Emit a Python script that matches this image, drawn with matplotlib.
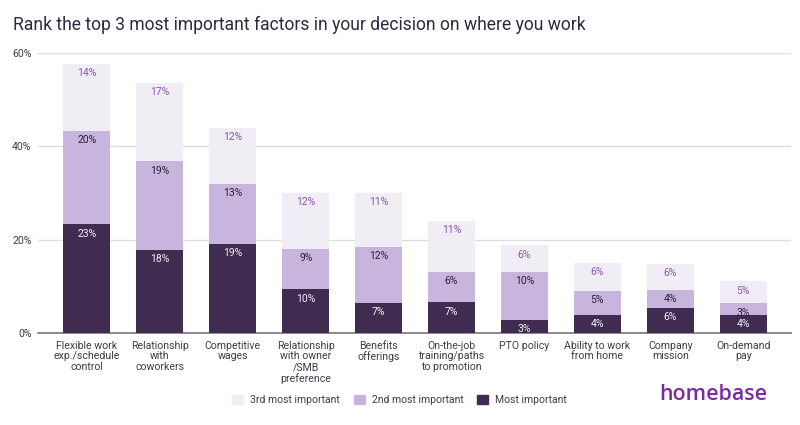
import matplotlib
matplotlib.use("Agg")
import matplotlib.pyplot as plt
from matplotlib.patches import Patch
import numpy as np

plt.rcParams['font.family'] = ['Roboto', 'DejaVu Sans']

categories = ["Flexible work\nexp./schedule\ncontrol", "Relationship\nwith\ncoworkers",
              "Competitive\nwages", "Relationship\nwith owner\n/SMB\npreference",
              "Benefits\nofferings", "On-the-job\ntraining/paths\nto promotion",
              "PTO policy", "Ability to work\nfrom home", "Company\nmission", "On-demand\npay"]
most = [23.3, 17.8, 19.1, 9.4, 6.5, 6.6, 2.9, 3.9, 5.5, 3.9]
second = [20.0, 19.0, 12.8, 8.7, 12.0, 6.5, 10.2, 5.2, 3.8, 2.5]
third = [14.3, 16.8, 12.1, 12.0, 11.5, 11.0, 5.7, 6.0, 5.5, 4.7]
most_labels = ["23%", "18%", "19%", "10%", "7%", "7%", "3%", "4%", "6%", "4%"]
second_labels = ["20%", "19%", "13%", "9%", "12%", "6%", "10%", "5%", "4%", "3%"]
third_labels = ["14%", "17%", "12%", "12%", "11%", "11%", "6%", "6%", "6%", "5%"]
yticks = [0, 20, 40, 60]

DARK, MID, LIGHT = "#3f2c50", "#c8b5de", "#f0edf5"
INK = "#3d3d45"

fig = plt.figure(figsize=(8, 4.25), dpi=100)
ax = fig.add_axes([37.7/800, 1-333.3/425, (790.7-37.7)/800, (333.3-53)/425])
x = np.arange(len(categories))
m, s, t = map(np.array, (most, second, third))
w = 0.645
ax.bar(x, m, w, color=DARK, zorder=3)
ax.bar(x, s, w, bottom=m, color=MID, zorder=3)
ax.bar(x, t, w, bottom=m+s, color=LIGHT, zorder=3)

def put(tops, labels, color):
    for xi, top, lab in zip(x, tops, labels):
        ax.annotate(lab, (xi, top), xytext=(0, -6.6), textcoords="offset points",
                    ha="center", va="center", fontsize=7.5, color=color, zorder=4)
put(m, most_labels, "#f4f1f7")
put(m+s, second_labels, "#2a2133")
put(m+s+t, third_labels, "#8a55ab")

ax.set_xlim(-0.676, 9.652)
ax.set_ylim(0, 60)
ax.set_yticks(yticks, [f"{v}%" for v in yticks])
ax.set_xticks(x, categories)
ax.grid(axis="y", color="#dedde2", lw=1, zorder=0)
ax.set_axisbelow(True)
for sp in ("top", "right", "left"):
    ax.spines[sp].set_visible(False)
ax.spines["bottom"].set_color("#77757c")
ax.spines["bottom"].set_linewidth(1.2)
ax.tick_params(axis="both", length=0, labelsize=7.6, labelcolor=INK)
ax.tick_params(axis="x", pad=5.2)
ax.tick_params(axis="y", pad=4.4)
for lab in ax.get_xticklabels():
    lab.set_linespacing(1.1)

fig.text(13/800, 1-25/425, "Rank the top 3 most important factors in your decision on where you work",
         fontsize=12.65, color="#33263f", ha="left", va="center")

handles = [Patch(color=LIGHT, label="3rd most important"),
           Patch(color=MID, label="2nd most important"),
           Patch(color=DARK, label="Most important")]
fig.legend(handles=handles, loc="center left", bbox_to_anchor=(232/800, 1-400/425), ncol=3,
           frameon=False, fontsize=7.5, labelcolor=INK, handlelength=1.05, handleheight=1.05,
           handletextpad=0.67, columnspacing=1.35, borderpad=0, borderaxespad=0)

fig.text(659.5/800, 1-395/425, "homebase", fontsize=15.4, fontweight="semibold", color="#7a2c9e",
         family=["Open Sans", "DejaVu Sans"], ha="left", va="center")

fig.savefig("out.png", dpi=100)
